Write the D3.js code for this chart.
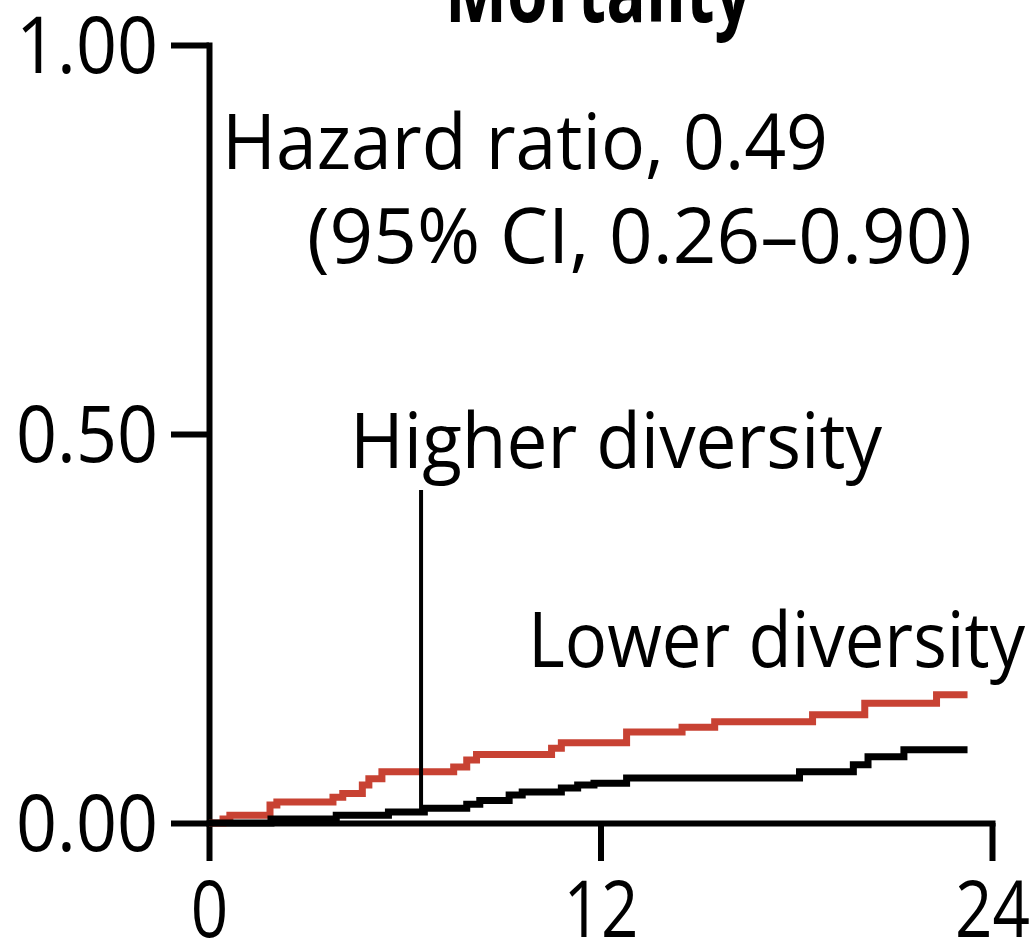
<!DOCTYPE html>
<head>
    <meta charset="UTF-8">
    <title>Mortality</title>
</head>
<style>
    body { margin: 0; background: #fff; }
    text { font-family: "Open Sans", sans-serif; fill: #000; }
    .axis .domain { stroke: #000; stroke-width: 6; stroke-linecap: square; }
    .axis .tick line { stroke: #000; stroke-width: 6; }
    .axis .tick text { font-size: 78px; }
</style>
<body>
<script src="https://d3js.org/d3.v7.min.js"></script>
<script>
    // months since start, cumulative mortality
    var xTicks = [0, 12, 24];
    var yTicks = [0, 0.5, 1];

    var lowerTimes  = [0, 0.43, 0.64, 1.87, 2.08, 3.8, 4.1, 4.7, 4.9, 5.3, 7.5, 7.9, 8.2, 10.5, 10.8, 12.8, 14.5, 15.5, 18.5, 20.1, 22.3, 23.25];
    var lowerValues = [0, 0.005, 0.010, 0.023, 0.027, 0.033, 0.038, 0.049, 0.057, 0.066, 0.072, 0.081, 0.088, 0.096, 0.103, 0.117, 0.123, 0.130, 0.139, 0.154, 0.165, 0.165];

    var higherTimes  = [0, 1.9, 3.9, 5.5, 6.6, 7.9, 8.3, 9.2, 9.6, 10.8, 11.3, 11.8, 12.8, 18.1, 19.75, 20.2, 21.3, 23.25];
    var higherValues = [0, 0.005, 0.010, 0.014, 0.019, 0.024, 0.029, 0.036, 0.040, 0.045, 0.049, 0.051, 0.058, 0.066, 0.075, 0.085, 0.094, 0.094];

    var W = 1035, H = 943;
    var svg = d3.select("body").append("svg")
        .attr("width", W)
        .attr("height", H);

    var x = d3.scaleLinear().domain([0, 24]).range([209, 992]);
    var y = d3.scaleLinear().domain([0, 1]).range([823, 45]);

    // axes
    var gy = svg.append("g")
        .attr("class", "axis")
        .attr("transform", "translate(" + x(0) + ",0)")
        .call(d3.axisLeft(y)
            .tickValues(yTicks)
            .tickSize(38)
            .tickSizeOuter(0)
            .tickPadding(13)
            .tickFormat(d3.format(".2f")));

    var gx = svg.append("g")
        .attr("class", "axis")
        .attr("transform", "translate(0," + y(0) + ")")
        .call(d3.axisBottom(x)
            .tickValues(xTicks)
            .tickSize(38)
            .tickSizeOuter(0)
            .tickPadding(21)
            .tickFormat(d3.format("d")));

    // the tick digits in the picture are narrower than Open Sans
    function squeeze(sel, k) {
        sel.selectAll(".tick text")
            .attr("fill", "#000")
            .each(function() {
                var w = this.getComputedTextLength();
                d3.select(this)
                    .attr("textLength", w * k)
                    .attr("lengthAdjust", "spacingAndGlyphs");
            });
    }
    squeeze(gy, 0.92);
    squeeze(gx, 0.84);
    gy.selectAll(".tick text").attr("dy", "0.35em");

    // curves
    var line = d3.line()
        .x(function(d) { return x(d[0]); })
        .y(function(d) { return y(d[1]); })
        .curve(d3.curveStepAfter);

    svg.append("path")
        .datum(d3.zip(lowerTimes, lowerValues))
        .attr("d", line)
        .attr("fill", "none")
        .attr("stroke", "#c84233")
        .attr("stroke-width", 7);

    svg.append("path")
        .datum(d3.zip(higherTimes, higherValues))
        .attr("d", line)
        .attr("fill", "none")
        .attr("stroke", "#000")
        .attr("stroke-width", 7);

    // leader line for higher diversity
    svg.append("line")
        .attr("x1", x(6.5)).attr("x2", x(6.5))
        .attr("y1", 490).attr("y2", y(0.017))
        .attr("stroke", "#000")
        .attr("stroke-width", 4);

    // texts
    function label(t, px, py, size, len, anchor, weight) {
        svg.append("text")
            .attr("x", px).attr("y", py)
            .attr("font-size", size)
            .attr("font-weight", weight || "normal")
            .attr("text-anchor", anchor || "start")
            .attr("textLength", len)
            .attr("lengthAdjust", "spacingAndGlyphs")
            .text(t);
    }

    label("Mortality", 445, 22, 86, 307, "start", "bold");
    label("Hazard ratio, 0.49", 222, 169, 77, 606);
    label("(95% CI, 0.26\u20130.90)", 307, 263, 77, 665);
    label("Higher diversity", 350, 468, 77, 532);
    label("Lower diversity", 528, 667, 77, 497);
</script>
